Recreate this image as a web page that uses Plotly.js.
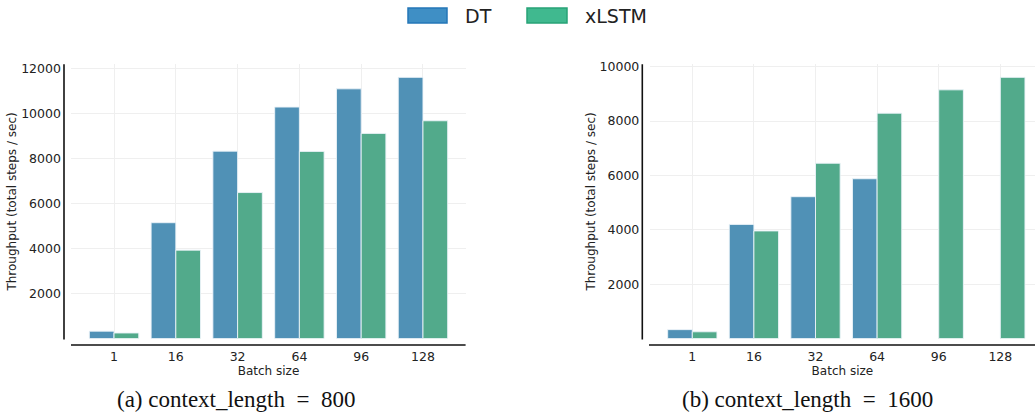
<!DOCTYPE html>
<html>
<head>
<meta charset="utf-8">
<script src="https://cdn.plot.ly/plotly-3.0.1.min.js"></script>
<style>html,body{margin:0;padding:0;background:#fff;}#chart{width:1035px;height:415px;}</style>
</head>
<body>
<div id="chart"></div>
<script>
// ---- data ----
const batchSizes = ["1", "16", "32", "64", "96", "128"];
const dt800 = [330, 5150, 8330, 10290, 11100, 11610];
const xlstm800 = [250, 3930, 6490, 8320, 9120, 9680];
const dt1600 = [330, 4200, 5220, 5880, null, null];
const xlstm1600 = [250, 3960, 6450, 8290, 9150, 9610];
const yTicks800 = [2000, 4000, 6000, 8000, 10000, 12000];
const yTicks1600 = [2000, 4000, 6000, 8000, 10000];
const seriesNames = ["DT", "xLSTM"];
const captions = ["(a) context_length = 800", "(b) context_length = 1600"];

// ---- styles ----
const W = 1035, H = 415;
const px = v => v / W;
const py = v => 1 - v / H;
const blue = "#5091b6", green = "#52aa8b";
const edge = "rgba(235,243,248,0.9)";
const tickFont = {family: "DejaVu Sans", size: 12.5, color: "#222"};
const titleFont = {family: "DejaVu Sans", size: 12, color: "#222"};
const gridColor = "#efefef";

function bar(x, y, name, color, xa, ya) {
  return {type: "bar", x: x, y: y, name: name, xaxis: xa, yaxis: ya,
    marker: {color: color, line: {color: edge, width: 1}}, showlegend: false,
    hoverinfo: "x+y+name"};
}

const data = [
  bar(batchSizes, dt800, seriesNames[0], blue, "x", "y"),
  bar(batchSizes, xlstm800, seriesNames[1], green, "x", "y"),
  bar(batchSizes, dt1600, seriesNames[0], blue, "x2", "y2"),
  bar(batchSizes, xlstm1600, seriesNames[1], green, "x2", "y2")
];

const yBottom = 338.6, yTop = 64.3;
function xaxis(domain, range, anchor) {
  return {domain: domain, range: range, anchor: anchor, type: "category",
    showgrid: true, gridcolor: gridColor, gridwidth: 1, zeroline: false, showline: false,
    ticks: "outside", ticklen: 6, tickcolor: "rgba(0,0,0,0)", tickfont: tickFont,
    title: {text: "Batch size", font: titleFont, standoff: 1}, fixedrange: true};
}
function yaxis(range, tickvals, anchor) {
  return {domain: [py(yBottom), py(yTop)], range: range, anchor: anchor,
    tickvals: tickvals, ticktext: tickvals.map(String),
    showgrid: true, gridcolor: gridColor, gridwidth: 1, zeroline: false, showline: false,
    ticks: "outside", ticklen: 7, tickcolor: "rgba(0,0,0,0)", tickfont: tickFont,
    title: {text: "Throughput (total steps / sec)", font: titleFont, standoff: 1}, fixedrange: true};
}

const spine = {color: "#111", width: 1.6};
const shapes = [
  // left panel spines (offset)
  {type: "line", xref: "paper", yref: "paper", x0: px(64), x1: px(64), y0: py(339.5), y1: py(yTop), line: spine},
  {type: "line", xref: "paper", yref: "paper", x0: px(71), x1: px(465.6), y0: py(345), y1: py(345), line: spine},
  // right panel spines
  {type: "line", xref: "paper", yref: "paper", x0: px(642.3), x1: px(642.3), y0: py(339.5), y1: py(yTop), line: spine},
  {type: "line", xref: "paper", yref: "paper", x0: px(649), x1: px(1035), y0: py(345), y1: py(345), line: spine},
  // legend patches
  {type: "rect", xref: "paper", yref: "paper", x0: px(408), x1: px(447), y0: py(23), y1: py(8),
   fillcolor: "#3f8fc5", line: {color: "#2577b8", width: 1.5}},
  {type: "rect", xref: "paper", yref: "paper", x0: px(527), x1: px(567), y0: py(23), y1: py(8),
   fillcolor: "#40b98f", line: {color: "#27a377", width: 1.5}}
];

const annotations = [
  {xref: "paper", yref: "paper", x: px(463), y: py(15.5), xanchor: "left", yanchor: "middle",
   text: seriesNames[0], showarrow: false, font: {family: "DejaVu Sans", size: 19, color: "#222"}},
  {xref: "paper", yref: "paper", x: px(583), y: py(15.5), xanchor: "left", yanchor: "middle",
   text: seriesNames[1], showarrow: false, font: {family: "DejaVu Sans", size: 19, color: "#222"}},
  {xref: "paper", yref: "paper", x: px(235.5), y: py(399), xanchor: "center", yanchor: "middle",
   text: captions[0].replace(" = ", "\u2002=\u2002"), showarrow: false, font: {family: "Liberation Serif", size: 23, color: "#111"}},
  {xref: "paper", yref: "paper", x: px(807), y: py(399), xanchor: "center", yanchor: "middle",
   text: captions[1].replace(" = ", "\u2002=\u2002"), showarrow: false, font: {family: "Liberation Serif", size: 23, color: "#111"}}
];

const layout = {
  width: W, height: H,
  margin: {l: 0, r: 0, t: 0, b: 0, pad: 0},
  paper_bgcolor: "#fff", plot_bgcolor: "#fff",
  barmode: "group", bargap: 0.2, bargroupgap: 0,
  showlegend: false,
  xaxis: xaxis([px(71.4), px(465.6)], [-0.69, 5.69], "y"),
  yaxis: yaxis([0, 12190], yTicks800, "x"),
  xaxis2: xaxis([px(649.8), 1], [-0.69, 5.563], "y2"),
  yaxis2: yaxis([0, 10090], yTicks1600, "x2"),
  shapes: shapes,
  annotations: annotations
};

Plotly.newPlot("chart", data, layout, {displayModeBar: false, staticPlot: true});
</script>
</body>
</html>
